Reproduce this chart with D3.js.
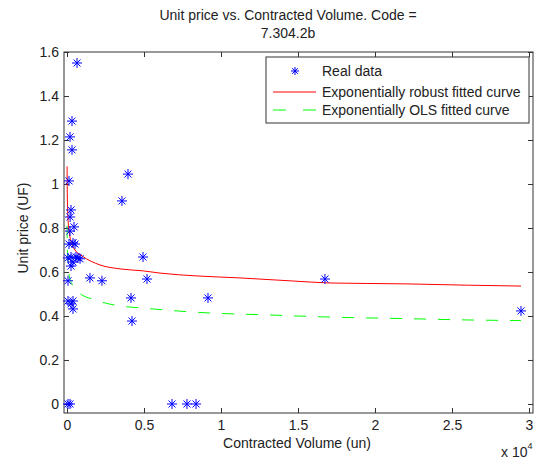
<!DOCTYPE html>
<html>
<head>
<meta charset="utf-8">
<script src="https://cdn.jsdelivr.net/npm/d3@7"></script>
<style>
  body { margin: 0; background: #fff; }
  text { font-family: "Liberation Sans", Arial, sans-serif; fill: #222; }
</style>
</head>
<body>
<script>
// data (x in units, y in UF)
var volume = [650, 325, 195, 325, 130, 260, 200, 455, 195, 390, 520, 130, 260, 715, 845, 390, 260,
              65, 1490, 2270, 65, 390, 260, 390, 3570, 3960, 4155, 4220, 4935, 5195, 9155,
              6820, 7790, 8380, 16750, 29480, 65, 195, 65, 585];
var price  = [1.55, 1.286, 1.214, 1.155, 1.014, 0.882, 0.85, 0.805, 0.786, 0.732, 0.727, 0.727, 0.668, 0.664, 0.66, 0.645, 0.627,
              0.56, 0.573, 0.56, 0.468, 0.468, 0.455, 0.432, 0.923, 1.045, 0.482, 0.377, 0.668, 0.568, 0.482,
              0, 0, 0, 0.568, 0.423, 0, 0, 0.664, 0.668];

// fitted curves
var robustX = [5, 20, 60, 150, 300, 520, 1000, 2140, 3440, 4950, 6040, 8440, 11230, 14680, 17080, 22000, 26000, 29480];
var robustY = [1.08, 0.95, 0.85, 0.78, 0.73, 0.70, 0.672, 0.632, 0.614, 0.605, 0.595, 0.582, 0.573, 0.559, 0.55, 0.546, 0.54, 0.536];
var olsX = [5, 20, 60, 150, 325, 715, 1820, 3500, 4935, 7140, 9155, 11040, 12990, 14935, 17080, 22000, 26000, 29480];
var olsY = [0.81, 0.72, 0.64, 0.58, 0.545, 0.509, 0.473, 0.445, 0.436, 0.423, 0.414, 0.409, 0.405, 0.40, 0.395, 0.388, 0.382, 0.379];

var xTicks = [0, 5000, 10000, 15000, 20000, 25000, 30000];
var xTickLabels = ["0", "0.5", "1", "1.5", "2", "2.5", "3"];
var yTicks = [0, 0.2, 0.4, 0.6, 0.8, 1.0, 1.2, 1.4, 1.6];
var yTickLabels = ["0", "0.2", "0.4", "0.6", "0.8", "1", "1.2", "1.4", "1.6"];
var legendLabels = ["Real data", "Exponentially robust fitted curve", "Exponentially OLS fitted curve"];

var W = 540, H = 460;
var L = 64, R = 533, T = 52, B = 413;
var fs = "14px";

var svg = d3.select("body").append("svg")
    .attr("width", W)
    .attr("height", H);

var x = d3.scaleLinear().domain([-195, 30260]).range([L, R]);
var y = d3.scaleLinear().domain([-0.041, 1.6]).range([B, T]);

svg.append("rect")
    .attr("x", L).attr("y", T)
    .attr("width", R - L).attr("height", B - T)
    .attr("fill", "#fff");

// axes, ticks pointing inward like matlab
var tickLen = 5;
var xBottom = svg.append("g").attr("transform", "translate(0," + B + ")")
    .call(d3.axisBottom(x).tickValues(xTicks).tickSizeInner(-tickLen).tickSizeOuter(0)
        .tickPadding(7).tickFormat(function(d, i) { return xTickLabels[i]; }));
var xTop = svg.append("g").attr("transform", "translate(0," + T + ")")
    .call(d3.axisTop(x).tickValues(xTicks).tickSizeInner(-tickLen).tickSizeOuter(0).tickFormat(""));
var yLeft = svg.append("g").attr("transform", "translate(" + L + ",0)")
    .call(d3.axisLeft(y).tickValues(yTicks).tickSizeInner(-tickLen).tickSizeOuter(0)
        .tickPadding(5).tickFormat(function(d, i) { return yTickLabels[i]; }));
var yRight = svg.append("g").attr("transform", "translate(" + R + ",0)")
    .call(d3.axisRight(y).tickValues(yTicks).tickSizeInner(-tickLen).tickSizeOuter(0).tickFormat(""));

[xBottom, xTop, yLeft, yRight].forEach(function(g) {
    g.select(".domain").remove();
    g.selectAll(".tick line").attr("stroke", "#333");
    g.selectAll(".tick text").style("font-size", fs).attr("fill", "#222")
        .style("font-family", "'Liberation Sans', Arial, sans-serif");
});

svg.append("rect")
    .attr("x", L).attr("y", T)
    .attr("width", R - L).attr("height", B - T)
    .attr("fill", "none").attr("stroke", "#333").attr("stroke-width", 1);

// curves
var line = d3.line()
    .x(function(d) { return x(d[0]); })
    .y(function(d) { return y(d[1]); })
    .curve(d3.curveMonotoneX);

svg.append("path")
    .datum(d3.zip(robustX, robustY))
    .attr("d", line)
    .attr("fill", "none")
    .attr("stroke", "#ff0000")
    .attr("stroke-width", 1);

svg.append("path")
    .datum(d3.zip(olsX, olsY))
    .attr("d", line)
    .attr("fill", "none")
    .attr("stroke", "#00ff00")
    .attr("stroke-width", 1)
    .attr("stroke-dasharray", "12,12");

// asterisk markers
function star(g, s) {
    g.append("line").attr("x1", -s).attr("x2", s).attr("y1", 0).attr("y2", 0);
    g.append("line").attr("x1", 0).attr("x2", 0).attr("y1", -s).attr("y2", s);
    g.append("line").attr("x1", -s * 0.7).attr("x2", s * 0.7).attr("y1", -s * 0.7).attr("y2", s * 0.7);
    g.append("line").attr("x1", -s * 0.7).attr("x2", s * 0.7).attr("y1", s * 0.7).attr("y2", -s * 0.7);
}

var pts = svg.append("g").attr("stroke", "#0000ff").attr("stroke-width", 1);
d3.zip(volume, price).forEach(function(d) {
    var g = pts.append("g").attr("transform", "translate(" + x(d[0]) + "," + y(d[1]) + ")");
    star(g, 5);
});

// title + labels
svg.append("text").attr("x", 288).attr("y", 20).attr("text-anchor", "middle")
    .style("font-size", fs).text("Unit price vs. Contracted Volume. Code =");
svg.append("text").attr("x", 288).attr("y", 38).attr("text-anchor", "middle")
    .style("font-size", fs).text("7.304.2b");

svg.append("text").attr("x", 297).attr("y", 448).attr("text-anchor", "middle")
    .style("font-size", fs).text("Contracted Volume (un)");

svg.append("text")
    .attr("transform", "translate(28,228) rotate(-90)")
    .attr("text-anchor", "middle")
    .style("font-size", fs).text("Unit price (UF)");

var expo = svg.append("text").attr("x", 501).attr("y", 457).style("font-size", fs);
expo.append("tspan").text("x 10");
expo.append("tspan").attr("dy", -8).style("font-size", "9px").text("4");

// legend
var lg = svg.append("g");
lg.append("rect")
    .attr("x", 266).attr("y", 57).attr("width", 263).attr("height", 66)
    .attr("fill", "#fff").attr("stroke", "#333");
var rowY = [71, 92, 110];
legendLabels.forEach(function(t, i) {
    lg.append("text").attr("x", 322).attr("y", rowY[i] + 5)
        .style("font-size", fs).text(t);
});
star(lg.append("g").attr("transform", "translate(295," + rowY[0] + ")")
    .attr("stroke", "#0000ff"), 4);
lg.append("line").attr("x1", 273).attr("x2", 316).attr("y1", rowY[1]).attr("y2", rowY[1])
    .attr("stroke", "#ff0000");
lg.append("line").attr("x1", 273).attr("x2", 316).attr("y1", rowY[2]).attr("y2", rowY[2])
    .attr("stroke", "#00ff00").attr("stroke-dasharray", "13,17");
</script>
</body>
</html>
